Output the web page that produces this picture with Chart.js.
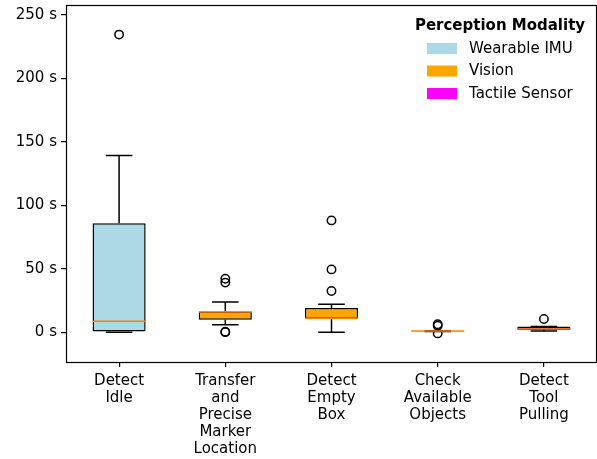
<!DOCTYPE html>
<html>
<head>
<meta charset="utf-8">
<script src="https://cdn.jsdelivr.net/npm/chart.js@4.4.1/dist/chart.umd.min.js"></script>
<style>
  html, body { margin: 0; padding: 0; background: #fff; }
  #wrap { width: 597px; height: 459px; }
</style>
</head>
<body>
<div id="wrap"><canvas id="c" width="597" height="459"></canvas></div>
<script>
// ---- Data ----
const categories = ['Detect Idle', 'Transfer and Precise Marker Location', 'Detect Empty Box', 'Check Available Objects', 'Detect Tool Pulling'];
const tickLabels = [['Detect', 'Idle'], ['Transfer', 'and', 'Precise', 'Marker', 'Location'], ['Detect', 'Empty', 'Box'], ['Check', 'Available', 'Objects'], ['Detect', 'Tool', 'Pulling']];
const modality = ['Wearable IMU', 'Vision', 'Vision', 'Vision', 'Tactile Sensor'];
const modalities = ['Wearable IMU', 'Vision', 'Tactile Sensor'];
const modalityColors = ['#add8e6', '#ffa500', '#ff00ff'];
const whiskerLow = [0, 5.9, 0, 0.6, 1.0];
const q1 = [0, 9.8, 10.6, 0.7, 1.6];
const median = [8.5, 15.8, 10.9, 0.85, 2.4];
const q3 = [85.7, 16.3, 19.0, 1.0, 4.4];
const whiskerHigh = [139, 23.8, 21.9, 1.2, 4.4];
const outliers = [
  [234.3],
  [42, 39, 0.4, 0],
  [88, 49.4, 32.4],
  [6.2, 5.0, -1.0],
  [10.3]
];
const yTicks = [0, 50, 100, 150, 200, 250];
const yMin = -23.5, yMax = 257.6;

// ---- Build datasets ----
const boxColors = modality.map(m => modalityColors[modalities.indexOf(m)]);
const outlierPoints = [];
outliers.forEach((arr, i) => arr.forEach(v => outlierPoints.push({ x: categories[i], y: v })));

const FONT = 'DejaVu Sans';
const zeroPad = () => ({ left: 0, top: 0, right: 0, bottom: 0 });

const boxPlugin = {
  id: 'boxParts',
  afterDatasetsDraw(chart) {
    const ctx = chart.ctx;
    const xs = chart.scales.x, ys = chart.scales.y;
    const meta = chart.getDatasetMeta(0);
    ctx.save();
    categories.forEach((c, i) => {
      const x = xs.getPixelForValue(i);
      const bw = meta.data[i].width;
      const capHalf = bw / 4;
      ctx.strokeStyle = '#000';
      ctx.lineWidth = 1.5;
      ctx.beginPath();
      ctx.moveTo(x, ys.getPixelForValue(q3[i]));
      ctx.lineTo(x, ys.getPixelForValue(whiskerHigh[i]));
      ctx.moveTo(x, ys.getPixelForValue(q1[i]));
      ctx.lineTo(x, ys.getPixelForValue(whiskerLow[i]));
      const yh = ys.getPixelForValue(whiskerHigh[i]);
      const yl = ys.getPixelForValue(whiskerLow[i]);
      ctx.moveTo(x - capHalf, yh); ctx.lineTo(x + capHalf, yh);
      ctx.moveTo(x - capHalf, yl); ctx.lineTo(x + capHalf, yl);
      ctx.stroke();
      ctx.strokeStyle = '#ff7f0e';
      ctx.lineWidth = 1.5;
      const ym = ys.getPixelForValue(median[i]);
      ctx.beginPath();
      ctx.moveTo(x - bw / 2, ym); ctx.lineTo(x + bw / 2, ym);
      ctx.stroke();
    });
    ctx.restore();
  },
  afterDraw(chart) {
    const ctx = chart.ctx;
    const a = chart.chartArea;
    ctx.save();
    ctx.strokeStyle = '#000';
    ctx.lineWidth = 1.2;
    ctx.strokeRect(Math.round(a.left) + 0.5, Math.round(a.top) + 0.5, Math.round(a.right - a.left) - 1, Math.round(a.bottom - a.top));
    // legend
    ctx.fillStyle = '#000';
    ctx.textBaseline = 'middle';
    ctx.textAlign = 'center';
    ctx.font = 'bold 15px ' + FONT;
    ctx.fillText('Perception Modality', 500, 26);
    ctx.textAlign = 'left';
    ctx.font = '15px ' + FONT;
    modalities.forEach((m, k) => {
      const yc = 48.5 + k * 22.5;
      ctx.fillStyle = modalityColors[k];
      ctx.fillRect(427, yc - 5.5, 30, 11);
      ctx.fillStyle = '#000';
      ctx.fillText(m, 469, yc + 0.5);
    });
    ctx.restore();
  }
};

new Chart(document.getElementById('c'), {
  type: 'bar',
  data: {
    labels: categories,
    datasets: [
      {
        type: 'bar',
        data: categories.map((c, i) => [q1[i], q3[i]]),
        backgroundColor: boxColors,
        borderColor: '#000',
        borderWidth: 1.5,
        borderSkipped: false,
        categoryPercentage: 1.0,
        barPercentage: 0.5,
        order: 2
      },
      {
        type: 'line',
        data: outlierPoints,
        showLine: false,
        pointRadius: 4.2,
        pointBorderWidth: 1.5,
        pointBorderColor: '#000',
        pointBackgroundColor: 'rgba(0,0,0,0)',
        pointHoverRadius: 4.2,
        order: 1
      }
    ]
  },
  options: {
    responsive: false,
    animation: false,
    events: [],
    layout: { autoPadding: false, padding: { top: 5, right: 0, left: 0, bottom: 0 } },
    plugins: { legend: { display: false }, tooltip: { enabled: false } },
    scales: {
      x: {
        type: 'category',
        offset: true,
        border: { display: false },
        grid: { display: true, drawOnChartArea: false, drawTicks: true, tickLength: 5, color: '#000', offset: false, lineWidth: 1.2 },
        ticks: {
          color: '#000', font: { family: FONT, size: 15, lineHeight: 1.13 }, padding: 6, maxRotation: 0, autoSkip: false,
          callback: (v, i) => tickLabels[i]
        },
        afterFit(s) { s.height = 97; s.paddingLeft = 0; s.paddingRight = 0; s.getPadding = zeroPad; }
      },
      y: {
        min: yMin, max: yMax,
        border: { display: false },
        grid: { display: true, drawOnChartArea: false, drawTicks: true, tickLength: 5, color: '#000', lineWidth: 1.2 },
        ticks: { color: '#000', font: { family: FONT, size: 15 }, padding: 4, callback: v => v + ' s' },
        afterBuildTicks(s) { s.ticks = yTicks.map(v => ({ value: v })); },
        afterFit(s) { s.width = 66; s.paddingTop = 0; s.paddingBottom = 0; s.getPadding = zeroPad; }
      }
    }
  },
  plugins: [boxPlugin]
});
</script>
</body>
</html>
